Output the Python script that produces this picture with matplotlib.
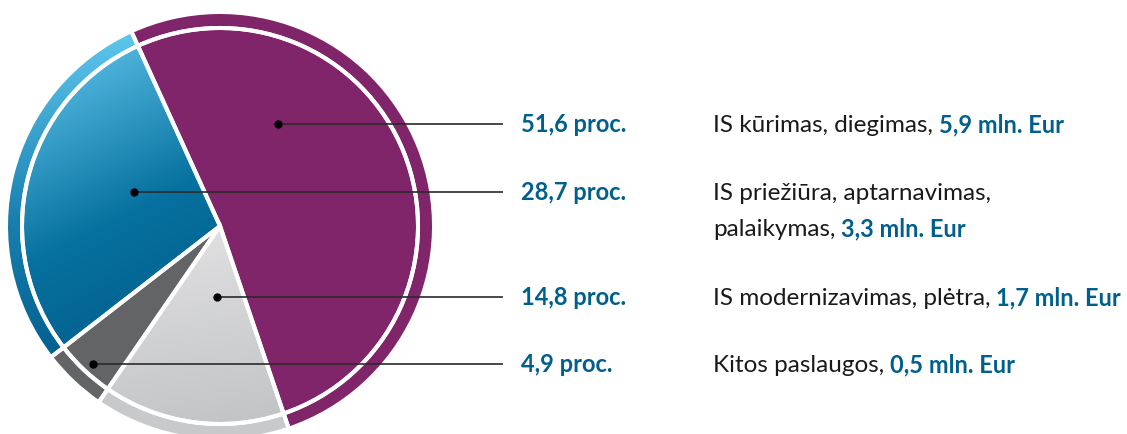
import numpy as np
import matplotlib
matplotlib.use("Agg")
import matplotlib.pyplot as plt
from matplotlib.patches import Wedge
from matplotlib.colors import to_rgb

# ---------------- data ----------------
categories = ["IS kūrimas, diegimas,", "IS priežiūra, aptarnavimas,\npalaikymas,",
              "IS modernizavimas, plėtra,", "Kitos paslaugos,"]
percent = [51.6, 28.7, 14.8, 4.9]
amount_mln = [5.9, 3.3, 1.7, 0.5]

# ---------------- style / layout ----------------
W, H = 1127, 434
fig = plt.figure(figsize=(W / 100, H / 100), dpi=100)
ax = fig.add_axes([0, 0, 1, 1])

PURPLE = "#80256A"
DGRAY = "#636466"
LGRAY = "#CFCFD1"
BLUE = "#0A6E9E"
TXT_BLUE = "#005F8C"
base_colors = [PURPLE, BLUE, LGRAY, DGRAY]
draw_order = [0, 2, 3, 1]          # clockwise from start angle
start_angle = 114.5

cx, cy = 220, H - 226
R_in, R_out, ring_w = 198, 214, 16
edge_lw = 2.9

vals = [percent[i] for i in draw_order]
cols = [base_colors[i] for i in draw_order]

inner, _ = ax.pie(vals, colors=cols, startangle=start_angle, counterclock=False,
                  radius=R_in, center=(cx, cy), frame=True,
                  wedgeprops=dict(linewidth=0))
ring, _ = ax.pie(vals, colors=cols, startangle=start_angle, counterclock=False,
                 radius=R_out, center=(cx, cy), frame=True,
                 wedgeprops=dict(width=ring_w, linewidth=0))
ring_colors = {0: PURPLE, 1: BLUE, 2: "#C8C9CB", 3: DGRAY}
for k, i in enumerate(draw_order):
    ring[k].set_facecolor(ring_colors[i])


def gradient_fill(patch, stops, direction, zorder=1.5):
    path = patch.get_path()
    ext = path.get_extents()
    x0, y0, x1, y1 = ext.x0, ext.y0, ext.x1, ext.y1
    X, Y = np.meshgrid(np.linspace(x0, x1, 300), np.linspace(y0, y1, 300))
    d = np.array(direction, float)
    d /= np.linalg.norm(d)
    s = X * d[0] + Y * d[1]
    s = (s - s.min()) / (s.max() - s.min())
    pos = np.array([p for p, _ in stops])
    rgb = np.array([to_rgb(c) for _, c in stops])
    img = np.stack([np.interp(s, pos, rgb[:, j]) for j in range(3)], axis=-1)
    im = ax.imshow(img, extent=(x0, x1, y0, y1), origin="lower",
                   interpolation="bilinear", aspect="auto", zorder=zorder)
    im.set_clip_path(patch)


idx = {i: k for k, i in enumerate(draw_order)}
gradient_fill(inner[idx[1]], [(0, "#66CAF0"), (0.55, "#07719F"), (1, "#005A88")], (0.45, -0.89))
gradient_fill(ring[idx[1]], [(0, "#64CCF2"), (0.55, "#1A80B0"), (1, "#005E8D")], (0.1, -1))
gradient_fill(inner[idx[2]], [(0, "#E2E2E3"), (1, "#C2C3C5")], (0.15, -1))

for w in list(inner) + list(ring):
    ax.add_patch(Wedge(w.center, w.r, w.theta1, w.theta2, width=w.width,
                       facecolor="none", edgecolor="white", linewidth=edge_lw, zorder=3))

ax.set_xlim(0, W)
ax.set_ylim(0, H)
ax.set_aspect("auto")
ax.axis("off")

# ---------------- leaders and labels ----------------
line_y = [124, 192, 297, 364]
dot_x = [278, 134, 217, 93]
line_end = 503
pct_x, lab_x = 521, 713
fs_bold, fs_reg = 17, 17.5
font = "Lato"


def fmt(v):
    return f"{v:.1f}".replace(".", ",")


for i in range(len(categories)):
    yd = H - line_y[i]
    ax.plot([dot_x[i], line_end], [yd, yd], color="#2A2A2A", lw=1.2, zorder=5,
            solid_capstyle="butt")
    ax.plot([dot_x[i]], [yd], "o", color="black", ms=5, zorder=6)

fig.canvas.draw()
renderer = fig.canvas.get_renderer()


def rich(x, y_base, parts):
    for txt, bold in parts:
        t = ax.text(x, y_base, txt, fontsize=fs_bold if bold else fs_reg, family=font,
                    fontweight="bold" if bold else "normal",
                    color=TXT_BLUE if bold else "#1A1A1A",
                    ha="left", va="baseline", zorder=7)
        bb = t.get_window_extent(renderer)
        x = ax.transData.inverted().transform((bb.x1, 0))[0] + 6


for i in range(len(categories)):
    base = H - (line_y[i] + 8)
    ax.text(pct_x, base, fmt(percent[i]) + " proc.", fontsize=fs_bold, family=font,
            fontweight="bold", color=TXT_BLUE, ha="left", va="baseline", zorder=7)
    lines = categories[i].split("\n")
    amt = fmt(amount_mln[i]) + " mln. Eur"
    for j, ln in enumerate(lines):
        parts = [(ln, False)]
        if j == len(lines) - 1:
            parts.append((amt, True))
        rich(lab_x, base - 36 * j, parts)

fig.savefig("out.png", dpi=100, facecolor="white")
